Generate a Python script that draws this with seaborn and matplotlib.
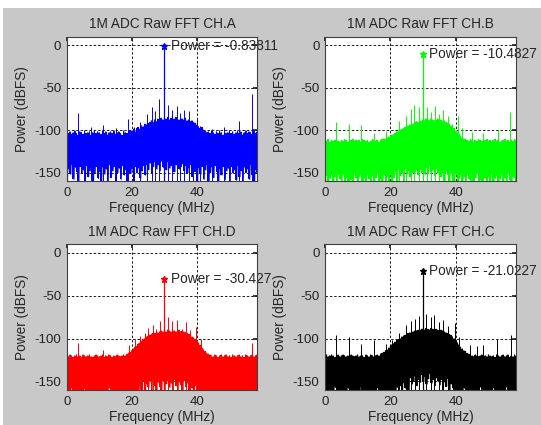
import numpy as np
import matplotlib
matplotlib.use("Agg")
import matplotlib.pyplot as plt
import seaborn as sns
from matplotlib.patches import Rectangle

# Spectrum: noise top / noise bottom per 0.5 MHz bin (dBFS)
bin_mhz = 0.5
peak_freq = 30.0

# CH.A
top_a = [-101, -104, -102, -105, -103, -101, -104, -106, -102, -103, -105, -101, -104, -103, -102, -106, -103, -101, -104, -102,
         -103, -105, -101, -104, -102, -106, -103, -102, -104, -101, -105, -103, -102, -104, -106, -101, -103, -104, -102, -101,
         -101, -99, -102, -98, -97, -99, -95, -96, -93, -94, -92, -91, -89, -91, -88, -90, -87, -89, -86, -88,
         -86, -87, -85, -88, -86, -84, -87, -85, -86, -88, -86, -87, -88, -86, -89, -88, -90, -89, -91, -92,
         -94, -96, -98, -97, -100, -101, -103, -102, -104, -101, -103, -105, -102, -104, -101, -103, -106, -102, -104, -103,
         -101, -104, -102, -105, -103, -101, -104, -102, -106, -103, -101, -104, -102, -103, -105, -101, -104, -102]
bot_a = [-160, -146, -152, -141, -158, -144, -149, -160, -143, -151, -147, -160, -142, -155, -148, -145, -160, -150, -143, -157,
         -149, -160, -144, -152, -146, -160, -141, -156, -148, -143, -160, -150, -145, -158, -142, -153, -147, -160, -144, -151,
         -146, -160, -143, -150, -145, -157, -148, -142, -153, -141, -147, -139, -150, -143, -138, -146, -141, -148, -137, -144,
         -140, -147, -138, -145, -142, -139, -149, -141, -137, -146, -143, -140, -148, -142, -150, -145, -141, -155, -144, -149,
         -160, -145, -152, -143, -158, -147, -141, -160, -150, -144, -156, -142, -149, -160, -146, -153, -143, -158, -148, -145,
         -160, -143, -151, -147, -159, -142, -155, -148, -160, -144, -150, -146, -158, -141, -153, -160, -147, -149]
spur_f_a = [0, 3.4, 7.4, 11.1, 15.2, 18.8, 20.7, 22.6, 24.8, 26.2, 27.2, 28.4, 31.1, 32.3, 33.9, 34.9, 36.1, 37.7, 38.8, 40.0,
            41.0, 44.7, 48.3, 52.9, 56.8]
spur_db_a = [-72, -80, -97, -94, -98, -87, -96, -90, -81, -73, -78, -64, -70, -76, -72, -80, -76, -78, -90, -87,
             -95, -99, -97, -89, -58]
peak_a = -0.83811

# CH.B
top_b = [-112, -113, -111, -114, -112, -113, -112, -111, -113, -114, -112, -113, -111, -112, -114, -113, -112, -111, -113, -112,
         -113, -112, -114, -111, -112, -113, -112, -114, -113, -111, -112, -113, -112, -114, -112, -111, -110, -111, -109, -108,
         -107, -106, -105, -104, -102, -101, -100, -99, -98, -97, -96, -95, -94, -92, -93, -91, -90, -91, -89, -90,
         -88, -89, -87, -88, -89, -87, -88, -89, -88, -87, -89, -88, -90, -89, -91, -92, -93, -95, -96, -98,
         -101, -103, -105, -107, -109, -110, -111, -112, -113, -111, -112, -114, -112, -113, -111, -112, -113, -114, -112, -111,
         -113, -112, -114, -112, -111, -113, -112, -114, -113, -112, -111, -113, -112, -114, -112, -113, -111, -112]
bot_b = [-160, -154, -160, -157, -151, -160, -155, -160, -153, -158, -160, -152, -160, -156, -160, -154, -159, -160, -151, -157,
         -160, -155, -152, -160, -157, -160, -153, -158, -160, -154, -160, -156, -151, -160, -158, -160, -153, -160, -155, -160,
         -152, -160, -156, -149, -160, -147, -154, -150, -160, -146, -152, -148, -155, -145, -151, -149, -147, -153, -146, -150,
         -148, -152, -145, -150, -142, -149, -147, -154, -146, -151, -148, -155, -150, -160, -149, -153, -160, -151, -156, -160,
         -152, -160, -157, -153, -160, -155, -160, -152, -158, -160, -154, -160, -156, -151, -160, -159, -160, -153, -157, -160,
         -155, -160, -152, -160, -157, -154, -160, -158, -153, -160, -156, -160, -151, -159, -160, -155, -157, -160]
spur_f_b = [0, 3.5, 7.4, 11.0, 15.0, 18.8, 22.6, 24.8, 26.2, 27.2, 28.7, 31.2, 32.5, 33.7, 35.0, 36.2, 37.7, 39.0, 40.7, 42.0,
            45.0, 48.2, 52.8, 56.7]
spur_db_b = [-52, -91, -93, -94, -103, -101, -89, -84, -75, -70, -73, -73, -79, -72, -81, -77, -83, -93, -84, -98,
             -102, -104, -100, -79]
peak_b = -10.4827

# CH.D
top_d = [-120, -121, -119, -120, -122, -120, -119, -121, -120, -122, -119, -120, -121, -120, -119, -121, -122, -120, -119, -120,
         -121, -120, -119, -122, -120, -121, -119, -120, -122, -120, -121, -119, -120, -121, -120, -119, -120, -118, -117, -116,
         -114, -112, -110, -109, -106, -105, -103, -101, -100, -98, -97, -96, -95, -94, -94, -93, -93, -92, -91, -92,
         -91, -92, -90, -91, -92, -90, -91, -92, -91, -90, -92, -91, -92, -93, -94, -95, -96, -98, -99, -101,
         -103, -105, -108, -111, -113, -115, -117, -118, -119, -120, -121, -119, -120, -122, -120, -119, -121, -120, -119, -121,
         -120, -122, -119, -120, -121, -120, -119, -121, -120, -122, -119, -120, -121, -120, -119, -121, -120, -119]
bot_d = [-162, -162, -162, -158, -162, -162, -162, -162, -162, -162, -162, -159, -162, -162, -162, -162, -162, -162, -162, -162,
         -162, -162, -162, -162, -162, -162, -158, -162, -162, -162, -162, -162, -162, -162, -162, -162, -162, -162, -162, -162,
         -162, -162, -162, -162, -162, -155, -162, -149, -162, -153, -157, -150, -162, -148, -155, -162, -151, -156, -162, -150,
         -162, -153, -149, -157, -152, -162, -148, -155, -162, -151, -154, -162, -149, -156, -152, -162, -150, -158, -162, -155,
         -162, -162, -162, -162, -162, -162, -162, -162, -162, -162, -162, -162, -162, -162, -162, -162, -162, -162, -162, -162,
         -162, -162, -162, -162, -162, -162, -162, -162, -162, -162, -162, -162, -162, -162, -162, -162, -162, -162]
spur_f_d = [0, 3.5, 11.0, 19.0, 21.0, 22.6, 24.2, 25.0, 26.5, 27.5, 28.6, 31.0, 32.3, 33.8, 35.3, 36.6, 38.0, 39.7, 41.2, 56.9,
            58.5]
spur_db_d = [-57, -105, -113, -108, -100, -97, -94, -88, -84, -89, -79, -75, -80, -78, -89, -81, -90, -86, -101, -105,
             -109]
peak_d = -30.427

# CH.C
top_c = [-120, -119, -121, -120, -119, -120, -122, -120, -119, -121, -120, -119, -120, -121, -120, -122, -119, -120, -121, -120,
         -119, -121, -120, -120, -122, -119, -120, -121, -119, -120, -121, -120, -119, -120, -118, -117, -116, -114, -113, -111,
         -109, -107, -106, -104, -102, -101, -100, -98, -97, -96, -95, -94, -93, -93, -92, -91, -91, -90, -90, -89,
         -89, -90, -88, -89, -90, -88, -89, -90, -89, -90, -91, -90, -91, -92, -93, -94, -95, -96, -98, -100,
         -103, -105, -107, -110, -112, -114, -115, -117, -118, -119, -120, -121, -119, -120, -121, -120, -119, -122, -120, -121,
         -119, -120, -121, -120, -122, -119, -120, -121, -120, -119, -121, -120, -119, -122, -120, -121, -119, -120]
bot_c = [-162, -162, -162, -162, -162, -162, -157, -162, -162, -162, -162, -162, -162, -162, -158, -162, -162, -162, -162, -162,
         -162, -162, -157, -162, -162, -162, -162, -162, -162, -162, -162, -162, -158, -162, -162, -162, -162, -162, -162, -162,
         -162, -162, -162, -162, -157, -162, -155, -162, -152, -158, -149, -162, -146, -153, -150, -144, -155, -148, -151, -142,
         -150, -145, -153, -147, -141, -152, -148, -155, -146, -150, -154, -148, -162, -151, -156, -147, -162, -153, -158, -162,
         -162, -162, -162, -162, -162, -158, -162, -162, -162, -162, -162, -162, -162, -162, -162, -157, -162, -162, -162, -162,
         -162, -162, -162, -158, -162, -162, -162, -162, -162, -162, -162, -157, -162, -162, -162, -162, -162, -162]
spur_f_c = [3.5, 7.4, 11.0, 15.0, 18.6, 20.6, 22.6, 24.8, 26.3, 27.6, 28.7, 31.0, 32.3, 33.5, 35.0, 36.1, 37.6, 39.7, 41.0, 44.5,
            46.5, 48.5, 52.7, 56.8]
spur_db_c = [-96, -98, -106, -102, -106, -102, -94, -84, -80, -77, -74, -71, -75, -73, -81, -78, -85, -82, -98, -107,
             -109, -108, -101, -96]
peak_c = -21.0227

# Style
sns.set_theme(style="white")
plt.rcParams['font.family'] = ['Liberation Sans', 'DejaVu Sans']
plt.rcParams['axes.unicode_minus'] = False
plt.rcParams['path.simplify'] = False

fig = plt.figure(figsize=(5.41, 4.25), dpi=100)
fig.patch.set_facecolor('white')
fig.patches.append(Rectangle((3 / 541, 0), 1 - 3 / 541, 417 / 425, transform=fig.transFigure,
                             facecolor='#c8c8c8', edgecolor='none', zorder=-1))


def draw_panel(rect, name, top, bot, spur_f, spur_db, peak, peak_txt, color):
    ax = fig.add_axes(rect)
    ax.set_facecolor('white')
    ax.set_axisbelow(True)

    freq = np.arange(len(top)) * bin_mhz
    # solid body of the noise band
    ax.fill_between(freq, bot, top, step='mid', color=color, lw=0)
    # zigzag between noise top and bottom for the ragged edges
    x = np.column_stack([freq, freq + bin_mhz / 2]).ravel()
    y = np.column_stack([top, bot]).ravel()
    sns.lineplot(x=x, y=y, color=color, lw=0.8, sort=False, estimator=None, ax=ax)

    ax.vlines(spur_f, -160, spur_db, color=color, lw=0.7)
    ax.vlines(peak_freq, -160, peak, color=color, lw=0.9)
    ax.plot(peak_freq, peak, marker='*', ms=5, color=color)
    ax.annotate(f"Power = {peak_txt}", (peak_freq, peak), xytext=(4.5, 0), textcoords='offset points',
                ha='left', va='center', fontsize=9.8, zorder=2.4, annotation_clip=False)

    ax.set_xlim(0, 58.6)
    ax.set_ylim(-160, 10)
    ax.set_xticks([0, 20, 40])
    ax.set_yticks([-150, -100, -50, 0])
    ax.grid(True, color='k', ls=(0, (2.5, 2)), lw=0.7)
    ax.tick_params(direction='in', length=3, top=True, right=True, labelsize=9.5, pad=4, colors='#222222')
    for s in ax.spines.values():
        s.set_color('#404040')
        s.set_linewidth(0.8)

    ax.set_title(f"1M ADC Raw FFT {name}", fontsize=9.8, pad=6)
    ax.set_xlabel('Frequency (MHz)', fontsize=9.8, labelpad=2)
    ax.set_ylabel('Power (dBFS)', fontsize=9.8, labelpad=4)
    return ax


draw_panel([0.1233, 0.5741, 0.3525, 0.340], 'CH.A', top_a, bot_a, spur_f_a, spur_db_a, peak_a, '-0.83811', '#0000ff')
draw_panel([0.6007, 0.5741, 0.3540, 0.340], 'CH.B', top_b, bot_b, spur_f_b, spur_db_b, peak_b, '-10.4827', '#00ff00')
draw_panel([0.1233, 0.0824, 0.3525, 0.3428], 'CH.D', top_d, bot_d, spur_f_d, spur_db_d, peak_d, '-30.427', '#ff0000')
draw_panel([0.6007, 0.0824, 0.3540, 0.3428], 'CH.C', top_c, bot_c, spur_f_c, spur_db_c, peak_c, '-21.0227', '#000000')

fig.savefig('out.png', dpi=100)
